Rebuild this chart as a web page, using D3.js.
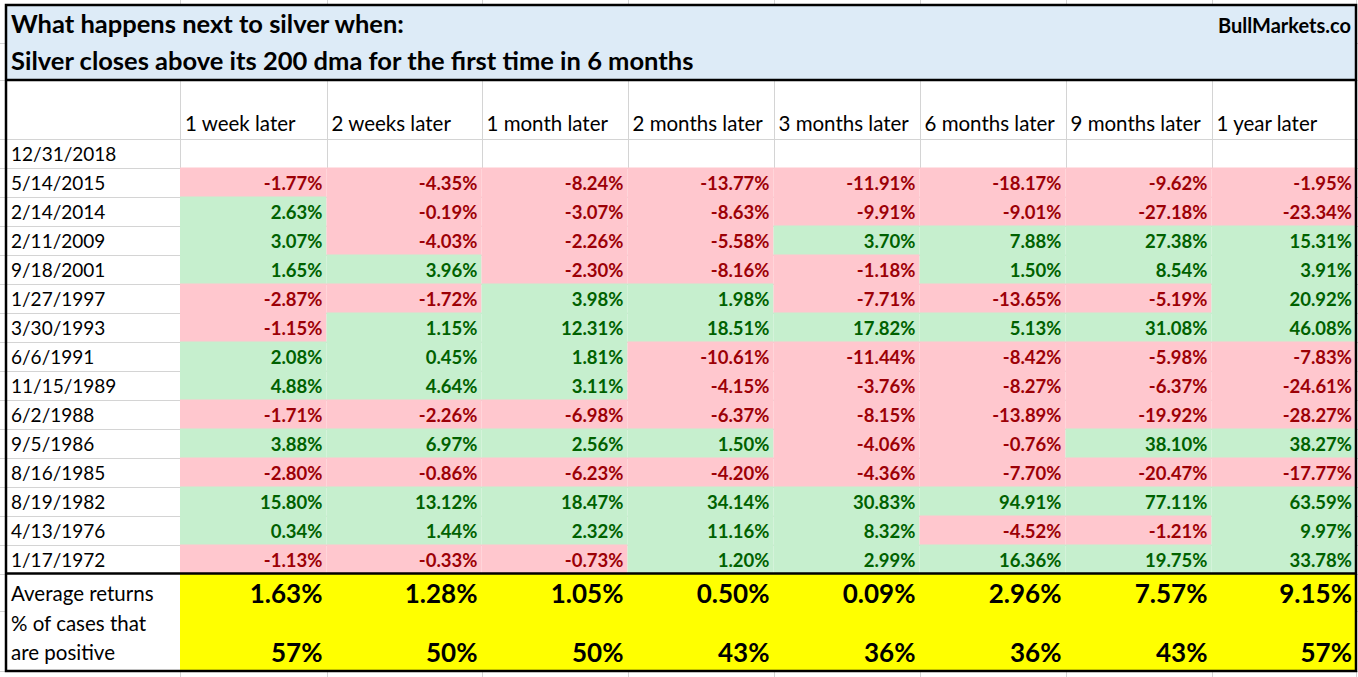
<!DOCTYPE html>
<html><head><meta charset="utf-8">
<script src="https://cdn.jsdelivr.net/npm/d3@7"></script>
<style>html,body{margin:0;padding:0;background:#fff;}svg{display:block;}</style>
</head><body>
<svg id="c" width="1358" height="677"></svg>
<script>
// ---- data ----
const titleLine1 = "What happens next to silver when:";
const titleLine2 = "Silver closes above its 200 dma for the first time in 6 months";
const brand = "BullMarkets.co";
const horizons = ["1 week later","2 weeks later","1 month later","2 months later","3 months later","6 months later","9 months later","1 year later"];
const dates = ["12/31/2018","5/14/2015","2/14/2014","2/11/2009","9/18/2001","1/27/1997","3/30/1993","6/6/1991","11/15/1989","6/2/1988","9/5/1986","8/16/1985","8/19/1982","4/13/1976","1/17/1972"];
// one array per horizon, rows in the order of dates (12/31/2018 has no result yet)
const week1  = [null,-1.77, 2.63, 3.07, 1.65,-2.87,-1.15, 2.08, 4.88,-1.71, 3.88,-2.80,15.80, 0.34,-1.13];
const week2  = [null,-4.35,-0.19,-4.03, 3.96,-1.72, 1.15, 0.45, 4.64,-2.26, 6.97,-0.86,13.12, 1.44,-0.33];
const month1 = [null,-8.24,-3.07,-2.26,-2.30, 3.98,12.31, 1.81, 3.11,-6.98, 2.56,-6.23,18.47, 2.32,-0.73];
const month2 = [null,-13.77,-8.63,-5.58,-8.16, 1.98,18.51,-10.61,-4.15,-6.37, 1.50,-4.20,34.14,11.16, 1.20];
const month3 = [null,-11.91,-9.91, 3.70,-1.18,-7.71,17.82,-11.44,-3.76,-8.15,-4.06,-4.36,30.83, 8.32, 2.99];
const month6 = [null,-18.17,-9.01, 7.88, 1.50,-13.65, 5.13,-8.42,-8.27,-13.89,-0.76,-7.70,94.91,-4.52,16.36];
const month9 = [null,-9.62,-27.18,27.38, 8.54,-5.19,31.08,-5.98,-6.37,-19.92,38.10,-20.47,77.11,-1.21,19.75];
const year1  = [null,-1.95,-23.34,15.31, 3.91,20.92,46.08,-7.83,-24.61,-28.27,38.27,-17.77,63.59, 9.97,33.78];
const averages   = [1.63, 1.28, 1.05, 0.50, 0.09, 2.96, 7.57, 9.15];
const pctPositive = [57, 50, 50, 43, 36, 36, 43, 57];
const summaryLabels = ["Average returns", "% of cases that", "are positive"];

// ---- layout ----
const W = 1358, H = 677;
const font = "Lato, 'Open Sans', sans-serif";
const colEdges = [180, 326.5, 481.5, 627.5, 773.5, 919.5, 1065.5, 1211.5, 1356];
const L = { left: 6, right: 1356, top: 5, titleMid: 43, titleBottom: 80, headerBottom: 138.5, dataBottom: 573.5, sumMid: 610.5, bottom: 671 };
const series = [week1, week2, month1, month2, month3, month6, month9, year1];

const svg = d3.select("#c");
const xL = d3.scaleOrdinal().domain(horizons).range(colEdges.slice(0, -1));
const xR = d3.scaleOrdinal().domain(horizons).range(colEdges.slice(1));
const y = d3.scaleBand().domain(dates).range([L.headerBottom, L.dataBottom]).padding(0);

const grid = "#d4d4d4";
const g0 = svg.append("g").attr("stroke", grid).attr("stroke-width", 1).attr("shape-rendering", "crispEdges");
colEdges.forEach(x => g0.append("line").attr("x1", Math.round(x) + 0.5).attr("x2", Math.round(x) + 0.5).attr("y1", 0).attr("y2", H));
[L.titleMid, L.titleBottom, L.headerBottom, ...dates.map(d => y(d) + y.bandwidth()), L.sumMid, L.bottom].forEach(yy =>
  g0.append("line").attr("x1", 0).attr("x2", W).attr("y1", Math.round(yy) + 0.5).attr("y2", Math.round(yy) + 0.5));

svg.append("rect").attr("x", L.left).attr("y", L.top).attr("width", L.right - L.left).attr("height", L.titleBottom - L.top).attr("fill", "#ddebf7");

const cells = [];
horizons.forEach((h, j) => dates.forEach((d, i) => { if (series[j][i] !== null) cells.push({h, d, v: series[j][i]}); }));
svg.append("g").selectAll("rect").data(cells).join("rect")
  .attr("x", c => xL(c.h)).attr("y", c => y(c.d))
  .attr("width", c => xR(c.h) - xL(c.h)).attr("height", y.bandwidth() + 0.5)
  .attr("fill", c => c.v < 0 ? "#ffc7ce" : "#c6efce");
svg.append("g").selectAll("text").data(cells).join("text")
  .attr("x", c => xR(c.h) - 4).attr("y", c => y(c.d) + y.bandwidth() - 7)
  .attr("text-anchor", "end").attr("font-family", font).attr("font-weight", "bold").attr("font-size", 18.5)
  .attr("fill", c => c.v < 0 ? "#9c0006" : "#006100")
  .text(c => c.v.toFixed(2) + "%");

svg.append("rect").attr("x", L.left).attr("y", L.dataBottom).attr("width", colEdges[0] - L.left).attr("height", L.bottom - L.dataBottom).attr("fill", "#fff");
svg.append("rect").attr("x", colEdges[0]).attr("y", L.dataBottom).attr("width", L.right - colEdges[0]).attr("height", L.bottom - L.dataBottom).attr("fill", "#ffff00");
svg.append("g").selectAll("text").data(averages).join("text")
  .attr("x", (v, j) => xR(horizons[j]) - 4).attr("y", 603)
  .attr("text-anchor", "end").attr("font-family", font).attr("font-weight", "bold").attr("font-size", 26)
  .attr("fill", "#000").text(v => v.toFixed(2) + "%");
svg.append("g").selectAll("text").data(pctPositive).join("text")
  .attr("x", (v, j) => xR(horizons[j]) - 4).attr("y", 662)
  .attr("text-anchor", "end").attr("font-family", font).attr("font-weight", "bold").attr("font-size", 26)
  .attr("fill", "#000").text(v => v + "%");
svg.append("g").selectAll("text").data(summaryLabels).join("text")
  .attr("x", 11).attr("y", (t, i) => [601, 631, 660][i])
  .attr("font-family", font).attr("font-size", 20.5).attr("fill", "#000").text(t => t);

svg.append("g").selectAll("text").data(horizons).join("text")
  .attr("x", h => xL(h) + 5).attr("y", 131)
  .attr("font-family", font).attr("font-size", 20.5).attr("fill", "#000").text(h => h);
svg.append("g").selectAll("text").data(dates).join("text")
  .attr("x", 11).attr("y", d => y(d) + y.bandwidth() - 7)
  .attr("font-family", font).attr("font-size", 19).attr("fill", "#000").text(d => d);

svg.append("text").attr("x", 11).attr("y", 33).attr("font-family", font).attr("font-weight", "bold").attr("font-size", 25.5).attr("fill", "#000").text(titleLine1);
svg.append("text").attr("x", 11).attr("y", 70).attr("font-family", font).attr("font-weight", "bold").attr("font-size", 25.5).attr("fill", "#000").text(titleLine2);
svg.append("text").attr("x", 1351).attr("y", 33).attr("text-anchor", "end").attr("font-family", font).attr("font-weight", "bold").attr("font-size", 20).attr("fill", "#000").text(brand);

const b = svg.append("g").attr("stroke", "#000").attr("stroke-width", 2.5).attr("fill", "none");
b.append("rect").attr("x", L.left).attr("y", L.top).attr("width", L.right - L.left).attr("height", L.bottom - L.top);
[L.titleBottom, L.dataBottom].forEach(yy => b.append("line").attr("x1", L.left).attr("x2", L.right).attr("y1", yy).attr("y2", yy));
</script>
</body></html>
